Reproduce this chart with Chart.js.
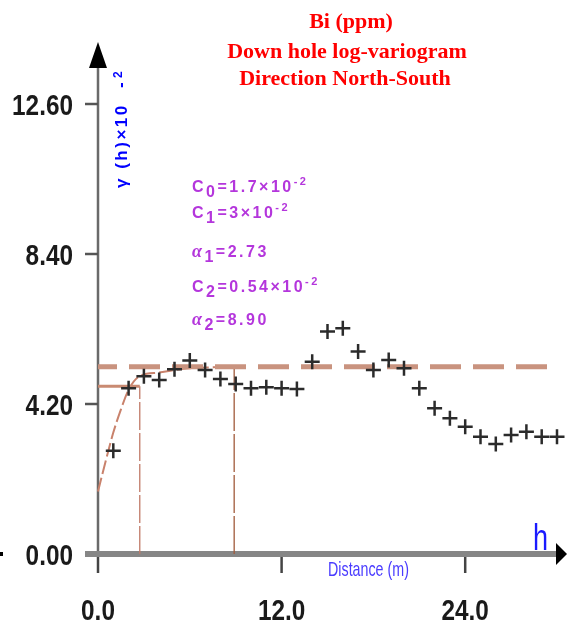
<!DOCTYPE html>
<html>
<head>
<meta charset="utf-8">
<title>Bi (ppm) down hole log-variogram</title>
<script src="https://cdn.jsdelivr.net/npm/chart.js@4.4.1/dist/chart.umd.min.js"></script>
<style>
    html, body { margin: 0; padding: 0; background: #ffffff; }
    #wrap { width: 567px; height: 625px; }
</style>
</head>
<body>
<div id="wrap"><canvas id="vario" width="567" height="625"></canvas></div>
<script>
// Experimental variogram: lag distance (m) and gamma (x 10^-2)
const lagDistance = [1, 2, 3, 4, 5, 6, 7, 8, 9, 10, 11, 12, 13, 14, 15,
                     16, 17, 18, 19, 20, 21, 22, 23, 24, 25, 26, 27, 28, 29, 30];
const gammaExperimental = [2.89, 4.64, 4.98, 4.87, 5.17, 5.42, 5.15, 4.90, 4.76, 4.64,
                           4.67, 4.64, 4.62, 5.38, 6.23, 6.32, 5.67, 5.15, 5.43, 5.20,
                           4.64, 4.08, 3.80, 3.56, 3.28, 3.08, 3.33, 3.42, 3.28, 3.28];

// Fitted nested model, sampled along h
const modelDistance = [0, 0.5, 1, 1.5, 2, 2.73, 4, 5, 6, 7, 8.9];
const modelGamma = [1.75, 2.6, 3.4, 4.05, 4.6, 4.98, 5.08, 5.15, 5.2, 5.22, 5.24];

// Model parameters (gamma in 10^-2, ranges in m)
const nugget = 1.7;   // C0
const sill1 = 3;      // C1
const range1 = 2.73;  // a1
const sill2 = 0.54;   // C2
const range2 = 8.90;  // a2
const sillLineEnd = 29.8;

const yTicks = [0, 4.2, 8.4, 12.6];
const yTickLabels = ['0.00', '4.20', '8.40', '12.60'];
const xTicks = [0, 12, 24];
const xTickLabels = ['0.0', '12.0', '24.0'];

const titleLines = ['Bi (ppm)', 'Down hole log-variogram', 'Direction North-South'];

const firstStructure = nugget + sill1;
const totalSill = nugget + sill1 + sill2;

const crossPoints = lagDistance.map((h, i) => ({ x: h, y: gammaExperimental[i] }));
const modelPoints = modelDistance.map((h, i) => ({ x: h, y: modelGamma[i] }));

const PURPLE = '#b436dc';
const MAIN = 'bold 16px "Liberation Sans"';
const SUP = 'bold 11px "Liberation Sans"';
const ALPHA = 'bold italic 18px "Liberation Serif"';

// Runs of text; dy shifts a piece down (subscript) or up (superscript)
function drawParts(ctx, x, y, parts) {
    let cx = x;
    parts.forEach(p => {
        ctx.font = p.font;
        ctx.fillText(p.text, cx, y + (p.dy || 0));
        cx += ctx.measureText(p.text).width;
    });
}

// Condensed labels: squeeze horizontally around the anchor point
function drawNarrow(ctx, text, x, y, align, sx) {
    ctx.save();
    ctx.translate(x, y);
    ctx.scale(sx, 1);
    ctx.textAlign = align;
    ctx.fillText(text, 0, 0);
    ctx.restore();
}

const axesPlugin = {
    id: 'axesPlugin',
    beforeDatasetsDraw(chart) {
        const { ctx, scales: { x, y } } = chart;
        const x0 = x.getPixelForValue(0);
        const y0 = y.getPixelForValue(0);
        ctx.save();

        // vertical axis with arrow head
        ctx.strokeStyle = '#6a6a6a';
        ctx.lineWidth = 2.5;
        ctx.beginPath();
        ctx.moveTo(x0, y0);
        ctx.lineTo(x0, 66);
        ctx.stroke();
        ctx.fillStyle = '#000';
        ctx.beginPath();
        ctx.moveTo(x0, 42);
        ctx.lineTo(x0 + 9, 68);
        ctx.lineTo(x0 - 9, 68);
        ctx.closePath();
        ctx.fill();

        // y ticks
        ctx.strokeStyle = '#555';
        ctx.lineWidth = 2.5;
        yTicks.forEach(v => {
            const py = y.getPixelForValue(v);
            ctx.beginPath();
            ctx.moveTo(x0 - 13, py);
            ctx.lineTo(x0, py);
            ctx.stroke();
        });

        // x ticks
        ctx.strokeStyle = '#444';
        xTicks.forEach(v => {
            const px = x.getPixelForValue(v);
            ctx.beginPath();
            ctx.moveTo(px, y0);
            ctx.lineTo(px, y0 + 19);
            ctx.stroke();
        });

        // horizontal axis band with arrow head
        ctx.strokeStyle = '#868686';
        ctx.lineWidth = 6;
        ctx.beginPath();
        ctx.moveTo(x0 - 13, y0);
        ctx.lineTo(558, y0);
        ctx.stroke();
        ctx.fillStyle = '#000';
        ctx.beginPath();
        ctx.moveTo(567, y0);
        ctx.lineTo(556, y0 - 11);
        ctx.lineTo(556, y0 + 11);
        ctx.closePath();
        ctx.fill();
        ctx.fillRect(0, y0 - 2, 3, 4);

        ctx.restore();
    },
    afterDraw(chart) {
        const { ctx, scales: { x, y } } = chart;
        const y0 = y.getPixelForValue(0);
        ctx.save();

        // tick labels
        ctx.fillStyle = '#1a1a1a';
        ctx.font = 'bold 29px "Liberation Sans"';
        ctx.textBaseline = 'alphabetic';
        yTicks.forEach((v, i) => {
            drawNarrow(ctx, yTickLabels[i], 73, y.getPixelForValue(v) + 10.5, 'right', 0.84);
        });
        xTicks.forEach((v, i) => {
            drawNarrow(ctx, xTickLabels[i], x.getPixelForValue(v), 620, 'center', 0.84);
        });

        // title
        ctx.fillStyle = '#ff0000';
        ctx.font = 'bold 22px "Liberation Serif"';
        ctx.textAlign = 'center';
        ctx.fillText(titleLines[0], 351, 28);
        ctx.fillText(titleLines[1], 347, 58);
        ctx.fillText(titleLines[2], 345, 85);

        // y axis title, rotated
        ctx.save();
        ctx.translate(122, 188);
        ctx.rotate(-Math.PI / 2);
        ctx.fillStyle = '#0000ff';
        ctx.textAlign = 'left';
        ctx.textBaseline = 'middle';
        ctx.letterSpacing = '2.5px';
        ctx.font = 'bold 17px "Liberation Sans"';
        ctx.fillText('\u03b3 (h)\u00d710', 0, 0);
        ctx.letterSpacing = '0px';
        ctx.fillText('-', 100, -1);
        ctx.font = 'bold 12px "Liberation Sans"';
        ctx.fillText('2', 110, -3);
        ctx.restore();

        // model parameters
        ctx.fillStyle = PURPLE;
        ctx.textAlign = 'left';
        ctx.textBaseline = 'alphabetic';
        ctx.letterSpacing = '2.5px';
        drawParts(ctx, 192, 192, [
            { text: 'C', font: MAIN },
            { text: '0', font: MAIN, dy: 5 },
            { text: '=' + nugget.toFixed(1) + '\u00d710', font: MAIN },
            { text: '-2', font: SUP, dy: -7 }
        ]);
        drawParts(ctx, 192, 218, [
            { text: 'C', font: MAIN },
            { text: '1', font: MAIN, dy: 5 },
            { text: '=' + sill1 + '\u00d710', font: MAIN },
            { text: '-2', font: SUP, dy: -7 }
        ]);
        drawParts(ctx, 192, 257, [
            { text: '\u03b1', font: ALPHA },
            { text: '1', font: MAIN, dy: 5 },
            { text: '=' + range1.toFixed(2), font: MAIN }
        ]);
        drawParts(ctx, 192, 292, [
            { text: 'C', font: MAIN },
            { text: '2', font: MAIN, dy: 5 },
            { text: '=' + sill2.toFixed(2) + '\u00d710', font: MAIN },
            { text: '-2', font: SUP, dy: -7 }
        ]);
        drawParts(ctx, 192, 325, [
            { text: '\u03b1', font: ALPHA },
            { text: '2', font: MAIN, dy: 5 },
            { text: '=' + range2.toFixed(2), font: MAIN }
        ]);
        ctx.letterSpacing = '0px';

        // axis caption and h marker
        ctx.fillStyle = '#4a3cff';
        ctx.font = '21px "Liberation Sans"';
        drawNarrow(ctx, 'Distance (m)', 328, y0 + 22, 'left', 0.68);
        ctx.fillStyle = '#1a1aff';
        ctx.font = '36px "Liberation Sans"';
        drawNarrow(ctx, 'h', 533, 550, 'left', 0.75);

        ctx.restore();
    }
};

new Chart(document.getElementById('vario'), {
    type: 'scatter',
    data: {
        datasets: [
            {
                label: 'experimental',
                data: crossPoints,
                pointStyle: 'cross',
                pointRadius: 7.5,
                pointBorderWidth: 2.5,
                borderColor: '#2b2b2b',
                backgroundColor: '#2b2b2b',
                clip: false,
                order: 0
            },
            {
                label: 'model',
                data: modelPoints,
                showLine: true,
                pointRadius: 0,
                borderColor: '#c9826c',
                borderWidth: 2,
                borderDash: [14, 4],
                cubicInterpolationMode: 'monotone',
                clip: false,
                order: 3
            },
            {
                label: 'C0 + C1',
                data: [{ x: 0, y: firstStructure }, { x: range1, y: firstStructure }],
                showLine: true,
                pointRadius: 0,
                borderColor: '#c98a72',
                borderWidth: 3,
                clip: false,
                order: 2
            },
            {
                label: 'sill',
                data: [{ x: 0, y: totalSill }, { x: sillLineEnd, y: totalSill }],
                showLine: true,
                pointRadius: 0,
                borderColor: '#c9937f',
                borderWidth: 5,
                borderDash: [31, 12],
                borderDashOffset: 12,
                clip: false,
                order: 2
            },
            {
                label: 'a1',
                data: [{ x: range1, y: 0 }, { x: range1, y: firstStructure }],
                showLine: true,
                pointRadius: 0,
                borderColor: '#c07a68',
                borderWidth: 1.3,
                borderDash: [28, 3],
                clip: false,
                order: 4
            },
            {
                label: 'a2',
                data: [{ x: range2, y: 0 }, { x: range2, y: totalSill }],
                showLine: true,
                pointRadius: 0,
                borderColor: '#a05a3a',
                borderWidth: 1.3,
                borderDash: [38, 3],
                clip: false,
                order: 4
            }
        ]
    },
    options: {
        responsive: false,
        animation: false,
        events: [],
        layout: { padding: { left: 98, right: 9, top: 104, bottom: 71 } },
        plugins: {
            legend: { display: false },
            tooltip: { enabled: false },
            title: { display: false }
        },
        scales: {
            x: { type: 'linear', min: 0, max: 30, display: false },
            y: { type: 'linear', min: 0, max: 12.6, display: false }
        }
    },
    plugins: [axesPlugin]
});
</script>
</body>
</html>
